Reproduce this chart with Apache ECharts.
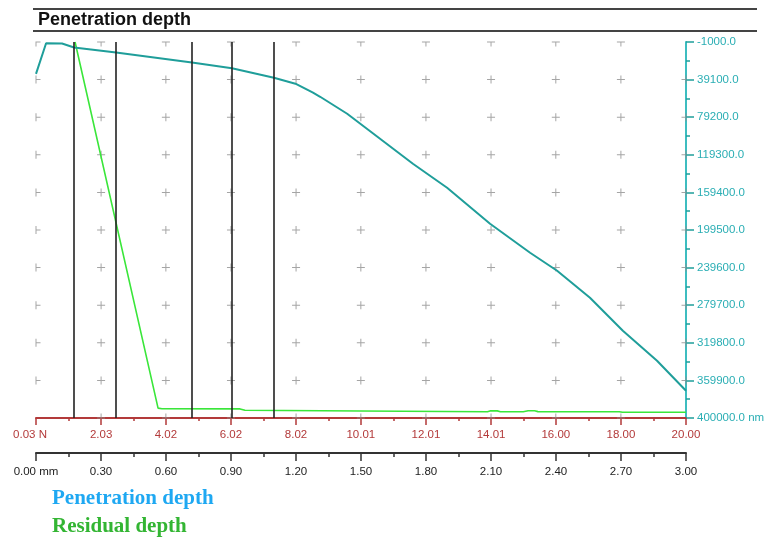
<!DOCTYPE html>
<html>
<head>
<meta charset="utf-8">
<script src="https://cdn.jsdelivr.net/npm/echarts@6/dist/echarts.min.js"></script>
<style>
  html, body { margin: 0; padding: 0; background: #fff; }
  #main { width: 769px; height: 542px; }
</style>
</head>
<body>
<div id="main"></div>
<script>
// load axis (N) ticks and labels
const loadTicks = [0.03, 2.03, 4.02, 6.02, 8.02, 10.01, 12.01, 14.01, 16.00, 18.00, 20.00];
const loadLabels = ['0.03 N', '2.03', '4.02', '6.02', '8.02', '10.01', '12.01', '14.01', '16.00', '18.00', '20.00'];
// distance axis (mm)
const distTicks = [0, 0.3, 0.6, 0.9, 1.2, 1.5, 1.8, 2.1, 2.4, 2.7, 3.0];
const distLabels = ['0.00 mm', '0.30', '0.60', '0.90', '1.20', '1.50', '1.80', '2.10', '2.40', '2.70', '3.00'];
// depth axis (nm)
const depthTicks = [-1000, 39100, 79200, 119300, 159400, 199500, 239600, 279700, 319800, 359900, 400000];
const depthLabels = ['-1000.0', '39100.0', '79200.0', '119300.0', '159400.0', '199500.0', '239600.0', '279700.0', '319800.0', '359900.0', '400000.0 nm'];

// penetration depth curve
const penLoad = [0.03, 0.34, 0.83, 1.20, 2.49, 4.82, 6.05, 7.34, 8.00, 8.54, 8.76, 9.59, 10.60, 11.61, 12.66, 13.98, 15.21, 16.04, 17.05, 18.06, 19.11, 20.00];
const penDepth = [33000, 300, 600, 4900, 10300, 20900, 27100, 37100, 43500, 53100, 57400, 75500, 102200, 128900, 154500, 192900, 223800, 243000, 271800, 307000, 339000, 371000];

// residual depth curve
const resLoad = [1.23, 3.78, 3.90, 6.30, 6.45, 10.00, 13.90, 14.00, 14.20, 14.30, 15.00, 15.15, 15.35, 15.45, 15.50, 15.60, 17.95, 18.05, 20.00];
const resDepth = [-1000, 389500, 390100, 390300, 391800, 392500, 393300, 392300, 392400, 393300, 393300, 392300, 392300, 393200, 392400, 393300, 393300, 393900, 393900];

// vertical marker lines (N)
const markerLoads = [1.20, 2.49, 4.82, 6.05, 7.34];

const RED = '#b33a3a';
const TEAL = '#1f9e9a';
const TEAL_AXIS = '#3dbdc0';
const GREY = '#8e8e8e';

function mids(arr) {
  const out = [];
  for (let i = 0; i < arr.length - 1; i++) out.push((arr[i] + arr[i + 1]) / 2);
  return out;
}

// grid marks at tick intersections
const plusPts = [], topPts = [], leftPts = [], bottomPts = [], rightPts = [];
for (let i = 1; i < loadTicks.length - 1; i++) {
  for (let j = 1; j < depthTicks.length - 1; j++) plusPts.push([loadTicks[i], depthTicks[j]]);
  topPts.push([loadTicks[i], depthTicks[0]]);
  bottomPts.push([loadTicks[i], depthTicks[depthTicks.length - 1]]);
}
for (let j = 1; j < depthTicks.length - 1; j++) {
  leftPts.push([loadTicks[0], depthTicks[j]]);
  rightPts.push([loadTicks[loadTicks.length - 1], depthTicks[j]]);
}

function marks(data, path, size, offset) {
  return {
    type: 'scatter', data: data, symbol: path, symbolSize: size, symbolOffset: offset,
    itemStyle: { color: GREY }, silent: true, z: 1
  };
}

const chart = echarts.init(document.getElementById('main'));
chart.setOption({
  animation: false,
  backgroundColor: '#fff',
  grid: { left: 36, right: 83, top: 42, bottom: 124 },
  graphic: [
    { type: 'line', shape: { x1: 33, y1: 9, x2: 757, y2: 9 }, style: { stroke: '#444', lineWidth: 2 } },
    { type: 'line', shape: { x1: 33, y1: 31, x2: 757, y2: 31 }, style: { stroke: '#444', lineWidth: 2 } },
    { type: 'text', left: 38, top: 11, style: { text: 'Penetration depth', font: 'bold 18px Arial, "Liberation Sans"', fill: '#111' } },
    { type: 'text', left: 52, top: 488, style: { text: 'Penetration depth', font: 'bold 21px "Liberation Serif", "DejaVu Serif"', fill: '#1ea8f2' } },
    { type: 'text', left: 52, top: 516, style: { text: 'Residual depth', font: 'bold 21px "Liberation Serif", "DejaVu Serif"', fill: '#33b533' } }
  ],
  xAxis: [
    {
      type: 'value', min: 0.03, max: 20, position: 'bottom',
      axisLine: { onZero: false, lineStyle: { color: RED, width: 2 } },
      axisTick: { customValues: loadTicks, length: 7, lineStyle: { color: RED, width: 1.5 } },
      axisLabel: {
        customValues: loadTicks, color: RED, fontSize: 11.5, fontFamily: 'Arial', margin: 11,
        formatter: function (v) {
          const i = loadTicks.indexOf(v);
          return i === 0 ? '{a|' + loadLabels[i] + '}' : loadLabels[i];
        },
        rich: { a: { color: RED, fontSize: 11.5, fontFamily: 'Arial', padding: [0, 12, 0, 0] } }
      },
      splitLine: { show: false }
    },
    {
      type: 'value', min: 0.03, max: 20, position: 'bottom',
      axisLine: { show: false, onZero: false },
      axisTick: { customValues: mids(loadTicks), length: 3, lineStyle: { color: RED, width: 1.5 } },
      axisLabel: { show: false },
      splitLine: { show: false }
    },
    {
      type: 'value', min: 0, max: 3, position: 'bottom', offset: 35,
      axisLine: { onZero: false, lineStyle: { color: '#333', width: 2 } },
      axisTick: { customValues: distTicks, length: 8, lineStyle: { color: '#333', width: 1.5 } },
      axisLabel: {
        customValues: distTicks, color: '#222', fontSize: 11.5, fontFamily: 'Arial', margin: 13,
        formatter: function (v) { return distLabels[distTicks.indexOf(v)]; }
      },
      splitLine: { show: false }
    },
    {
      type: 'value', min: 0, max: 3, position: 'bottom', offset: 35,
      axisLine: { show: false, onZero: false },
      axisTick: { customValues: mids(distTicks), length: 4, lineStyle: { color: '#333', width: 1.5 } },
      axisLabel: { show: false },
      splitLine: { show: false }
    }
  ],
  yAxis: [
    {
      type: 'value', inverse: true, min: -1000, max: 400000, position: 'right',
      axisLine: { show: true, onZero: false, lineStyle: { color: TEAL_AXIS, width: 2 } },
      axisTick: { show: true, customValues: depthTicks, length: 8, lineStyle: { color: TEAL, width: 1.5 } },
      axisLabel: {
        customValues: depthTicks, color: '#2aaeb4', fontSize: 11.5, fontFamily: 'Arial', margin: 11,
        formatter: function (v) { return depthLabels[depthTicks.indexOf(v)]; }
      },
      splitLine: { show: false }
    },
    {
      type: 'value', inverse: true, min: -1000, max: 400000, position: 'right',
      axisLine: { show: false, onZero: false },
      axisTick: { show: true, customValues: mids(depthTicks), length: 4, lineStyle: { color: TEAL, width: 1.5 } },
      axisLabel: { show: false },
      splitLine: { show: false }
    }
  ],
  series: [
    marks(plusPts, 'path://M3.5,0h1v3.5h3.5v1h-3.5v3.5h-1v-3.5h-3.5v-1h3.5z', [8, 8], [0, 0]),
    marks(topPts, 'path://M0,0h8v1h-3.5v4h-1v-4h-3.5z', [8, 5], [0, 2]),
    marks(bottomPts, 'path://M3.5,0h1v4h3.5v1h-8v-1h3.5z', [8, 5], [0, -2]),
    marks(leftPts, 'path://M0,0h1v3.5h4v1h-4v3.5h-1z', [5, 8], [2, 0]),
    marks(rightPts, 'path://M4,0h1v8h-1v-3.5h-4v-1h4z', [5, 8], [-2, 0]),
    marks([[loadTicks[0], depthTicks[0]]], 'path://M0,0h5v1h-4v4h-1z', [5, 5], [2, 2]),
    {
      name: 'Residual depth', type: 'line', symbol: 'none', z: 3,
      data: resLoad.map((x, i) => [x, resDepth[i]]),
      lineStyle: { color: '#3ae63a', width: 1.6 },
      markLine: {
        silent: true, symbol: 'none', label: { show: false },
        lineStyle: { color: '#222', width: 1.6, type: 'solid' },
        data: markerLoads.map(v => ({ xAxis: v }))
      }
    },
    {
      name: 'Penetration depth', type: 'line', symbol: 'none', z: 4,
      data: penLoad.map((x, i) => [x, penDepth[i]]),
      lineStyle: { color: TEAL, width: 2 }
    }
  ]
});
</script>
</body>
</html>
